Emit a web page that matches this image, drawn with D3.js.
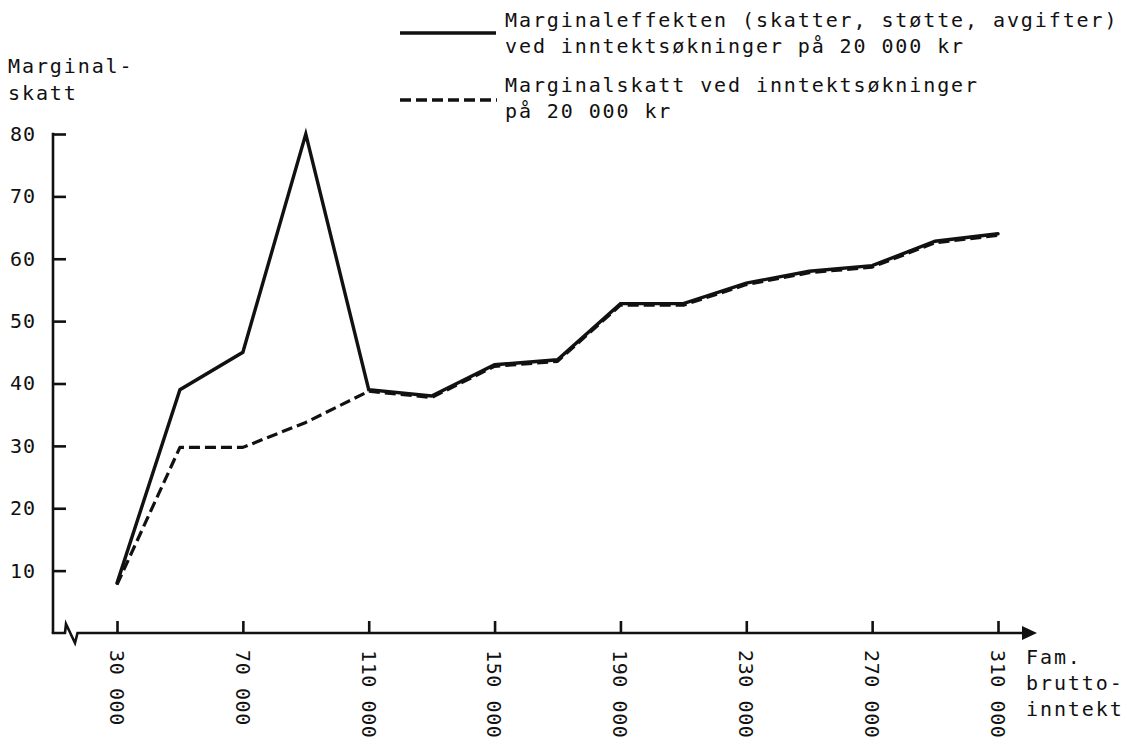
<!DOCTYPE html>
<html>
<head>
<meta charset="utf-8">
<script src="https://cdn.jsdelivr.net/npm/d3@7"></script>
<style>
  html, body { margin: 0; padding: 0; background: #fff; }
  svg text { font-family: "DejaVu Sans Mono", "Liberation Mono", monospace; font-size: 20px; letter-spacing: 1.9px; fill: #111; }
</style>
</head>
<body>
<svg id="chart" width="1127" height="745"></svg>
<script>
// ---- data ----
const incomes = [30000, 50000, 70000, 90000, 110000, 130000, 150000, 170000, 190000, 210000, 230000, 250000, 270000, 290000, 310000];
const marginalEffect = [8, 39, 45, 80, 39, 38, 43, 43.8, 52.8, 52.8, 56.1, 58, 58.9, 62.8, 64];
const marginalTax    = [8, 30, 30, 34, 39, 38, 43, 43.8, 52.8, 52.8, 56.1, 58, 58.9, 62.8, 64];
const xTickValues = [30000, 70000, 110000, 150000, 190000, 230000, 270000, 310000];
const xTickLabels = ["30 000", "70 000", "110 000", "150 000", "190 000", "230 000", "270 000", "310 000"];
const yTickValues = [10, 20, 30, 40, 50, 60, 70, 80];
const yTitle = ["Marginal-", "skatt"];
const xTitle = ["Fam.", "brutto-", "inntekt"];
const legendSolid = ["Marginaleffekten (skatter, støtte, avgifter)", "ved inntektsøkninger på 20 000 kr"];
const legendDashed = ["Marginalskatt ved inntektsøkninger", "på 20 000 kr"];

// ---- layout ----
const svg = d3.select("#chart");
const axisX0 = 53, axisY0 = 633;
const x = d3.scaleLinear().domain([30000, 310000]).range([117, 998]);
const y = d3.scaleLinear().domain([0, 80]).range([axisY0, 134]);

const ink = "#111";

// y axis line
svg.append("line").attr("x1", axisX0).attr("x2", axisX0).attr("y1", y(80) - 1.3).attr("y2", axisY0)
  .attr("stroke", ink).attr("stroke-width", 2.6);

// y ticks via d3 axis
const yAxis = d3.axisLeft(y).tickValues(yTickValues).tickSizeInner(-13).tickSizeOuter(0).tickPadding(17)
  .tickFormat(d3.format("d"));
const gy = svg.append("g").attr("transform", `translate(${axisX0},0)`).call(yAxis);
gy.select(".domain").remove();
gy.selectAll(".tick line").attr("stroke", ink).attr("stroke-width", 2.6);
gy.selectAll(".tick text").attr("font-size", null).attr("font-family", null).attr("fill", ink)
  .style("letter-spacing", "1px");

// x axis line with break
const brk = d3.path();
brk.moveTo(axisX0 - 1.3, axisY0);
brk.lineTo(65, axisY0);
brk.lineTo(66, 624);
brk.lineTo(75, 643);
brk.lineTo(77.5, axisY0);
brk.lineTo(1024, axisY0);
svg.append("path").attr("d", brk.toString()).attr("fill", "none").attr("stroke", ink)
  .attr("stroke-width", 2.6).attr("stroke-linejoin", "miter");
// arrow head
svg.append("path").attr("d", d3.line()([[1022, 626], [1037, axisY0], [1022, 640]]) + "Z").attr("fill", ink);

// x ticks via d3 axis
const xAxis = d3.axisBottom(x).tickValues(xTickValues).tickSizeInner(-12).tickSizeOuter(0).tickFormat("");
const gx = svg.append("g").attr("transform", `translate(0,${axisY0})`).call(xAxis);
gx.select(".domain").remove();
gx.selectAll(".tick line").attr("stroke", ink).attr("stroke-width", 2.6);

// rotated x labels
svg.append("g").selectAll("text").data(xTickValues).join("text")
  .attr("transform", d => `translate(${x(d)},650) rotate(90)`)
  .attr("dy", "0.36em")
  .attr("text-anchor", "start")
  .style("letter-spacing", "0.6px")
  .text((d, i) => xTickLabels[i]);

// axis titles
svg.append("text").selectAll("tspan").data(yTitle).join("tspan")
  .attr("x", 8).attr("y", (d, i) => 73 + i * 27).text(d => d);
svg.append("text").selectAll("tspan").data(xTitle).join("tspan")
  .attr("x", 1026).attr("y", (d, i) => 664 + i * 26).text(d => d);

// lines
const line = d3.line().x((d, i) => x(incomes[i])).y(d => y(d));
svg.append("path").datum(marginalTax).attr("d", line)
  .attr("transform", "translate(0,1.5)")
  .attr("fill", "none").attr("stroke", ink).attr("stroke-width", 3.2)
  .attr("stroke-dasharray", "11,5").attr("stroke-linejoin", "round");
svg.append("path").datum(marginalEffect).attr("d", line)
  .attr("fill", "none").attr("stroke", ink).attr("stroke-width", 3.4)
  .attr("stroke-linejoin", "miter").attr("stroke-linecap", "round");

// legend
svg.append("line").attr("x1", 400).attr("x2", 496).attr("y1", 33).attr("y2", 33)
  .attr("stroke", ink).attr("stroke-width", 3.4);
svg.append("text").selectAll("tspan").data(legendSolid).join("tspan")
  .attr("x", 505).attr("y", (d, i) => 27 + i * 26).text(d => d);
svg.append("line").attr("x1", 400).attr("x2", 497).attr("y1", 100).attr("y2", 100)
  .attr("stroke", ink).attr("stroke-width", 3.4).attr("stroke-dasharray", "11,5");
svg.append("text").selectAll("tspan").data(legendDashed).join("tspan")
  .attr("x", 505).attr("y", (d, i) => 92 + i * 26).text(d => d);
</script>
</body>
</html>
